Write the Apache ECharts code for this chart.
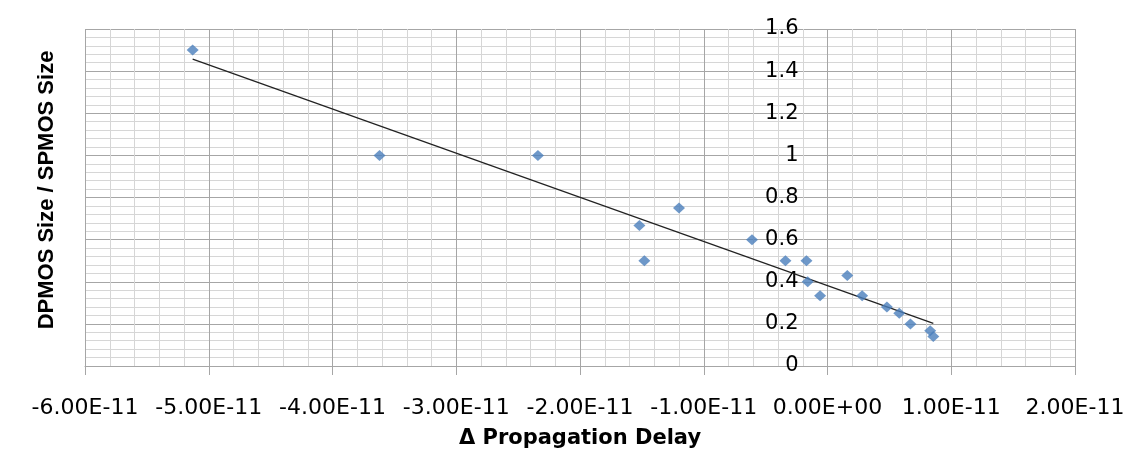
<!DOCTYPE html>
<html>
<head>
<meta charset="utf-8">
<script src="https://cdn.jsdelivr.net/npm/echarts@6/dist/echarts.min.js"></script>
<style>html,body{margin:0;padding:0;background:#fff;}#c{width:1138px;height:460px;}</style>
</head>
<body>
<div id="c"></div>
<script>
// Δ Propagation Delay (s)
const xValues = [-5.13e-11, -3.62e-11, -2.34e-11, -1.20e-11, -1.52e-11, -1.48e-11, -0.61e-11, -0.34e-11, -0.17e-11,
                 -0.16e-11, -0.06e-11, 0.16e-11, 0.28e-11, 0.48e-11, 0.58e-11, 0.67e-11, 0.83e-11, 0.855e-11];
// DPMOS Size / SPMOS Size
const yValues = [1.50, 1.00, 1.00, 0.75, 0.667, 0.50, 0.60, 0.50, 0.50,
                 0.40, 0.333, 0.43, 0.333, 0.28, 0.25, 0.20, 0.167, 0.14];
const xTickLabels = ['-6.00E-11','-5.00E-11','-4.00E-11','-3.00E-11','-2.00E-11','-1.00E-11','0.00E+00','1.00E-11','2.00E-11'];
const yTickLabels = ['0','0.2','0.4','0.6','0.8','1','1.2','1.4','1.6'];
const xMin = -6e-11, xMax = 2e-11, xStep = 1e-11;
const yMin = 0, yMax = 1.6, yStep = 0.2;
const xTitle = 'Δ Propagation Delay';
const yTitle = 'DPMOS Size / SPMOS Size';

// linear trendline (least squares) from the data
const n = xValues.length;
const mx = xValues.reduce((a,b)=>a+b,0)/n, my = yValues.reduce((a,b)=>a+b,0)/n;
let sxy = 0, sxx = 0;
for (let i=0;i<n;i++){ sxy += (xValues[i]-mx)*(yValues[i]-my); sxx += (xValues[i]-mx)**2; }
const slope = sxy/sxx, icpt = my - slope*mx;
const tx0 = Math.min(...xValues), tx1 = Math.max(...xValues);
const trend = [[tx0, icpt+slope*tx0],[tx1, icpt+slope*tx1]];
const points = xValues.map((x,i)=>[x, yValues[i]]);

const chart = echarts.init(document.getElementById('c'), null, {renderer:'canvas'});
const majorCol = '#a6a6a6', minorCol = '#d6d6d6';
const gridLeft = 85, gridRight = 63;
// y-axis crosses at x = 0: place its labels next to the x = 0 position
const plotW = 1138 - gridLeft - gridRight;
const zeroOffset = (0 - xMin) / (xMax - xMin) * plotW;
chart.setOption({
  animation:false,
  backgroundColor:'#fff',
  grid:{left:gridLeft, right:gridRight, top:29, bottom:94, containLabel:false},
  xAxis:{
    type:'value', min:xMin, max:xMax, interval:xStep,
    name:xTitle, nameLocation:'middle', nameGap:62,
    nameTextStyle:{fontFamily:'DejaVu Sans', fontWeight:'bold', fontSize:21, color:'#000'},
    axisLine:{show:true, onZero:false, lineStyle:{color:majorCol, width:1}},
    axisTick:{show:true, inside:false, length:9, lineStyle:{color:majorCol}},
    axisLabel:{margin:31, fontFamily:'DejaVu Sans', fontSize:22, color:'#000',
      formatter:v=>xTickLabels[Math.round((v-xMin)/xStep)]},
    splitLine:{show:true, lineStyle:{color:majorCol, width:1}},
    minorTick:{show:false, splitNumber:5},
    minorSplitLine:{show:true, lineStyle:{color:minorCol, width:1}}
  },
  yAxis:{
    type:'value', min:yMin, max:yMax, interval:yStep,
    axisLine:{show:false},
    axisTick:{show:false},
    axisLabel:{margin:-(zeroOffset - 29), fontFamily:'DejaVu Sans', fontSize:21, color:'#000',
      formatter:v=>yTickLabels[Math.round((v-yMin)/yStep)]},
    splitLine:{show:true, lineStyle:{color:majorCol, width:1}},
    minorTick:{show:false, splitNumber:5},
    minorSplitLine:{show:true, lineStyle:{color:minorCol, width:1}}
  },
  graphic:[{
    type:'text', x:47, y:190, rotation:Math.PI/2,
    style:{text:yTitle, font:'bold 22px "Liberation Sans", Arial, sans-serif', fill:'#000',
      textAlign:'center', textVerticalAlign:'middle'}
  }],
  series:[
    {type:'scatter', data:points, symbol:'diamond', symbolSize:[12,11],
     itemStyle:{color:'#4a7ebb'}, z:3},
    {type:'line', data:trend, showSymbol:false, symbol:'none',
     lineStyle:{color:'#222', width:1.2}, z:2}
  ]
});
</script>
</body>
</html>
